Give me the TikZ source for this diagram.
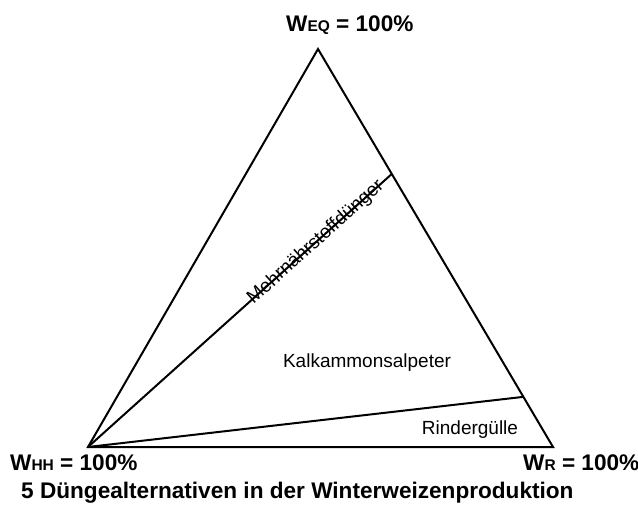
\documentclass[tikz,border=0pt]{standalone}
\usepackage{fontspec}
\setmainfont{Liberation Sans}
\usetikzlibrary{calc}
\newcommand\subsz[1]{{\fontsize{15.5}{15.5}\selectfont #1}}
\begin{document}
\begin{tikzpicture}[x=1pt,y=-1pt,
  edge/.style={line width=2pt,line join=miter},
  corner/.style={inner sep=0pt,anchor=base west,font=\bfseries\fontsize{22.6}{22.6}\selectfont},
  area/.style={inner sep=0pt,anchor=base,font=\fontsize{19}{19}\selectfont}]
\useasboundingbox (0,0) rectangle (638,505);
% vertices of the triangle
\coordinate (EQ) at (318,49);
\coordinate (HH) at (88,447);
\coordinate (R) at (553,447);
% points where the dividing lines meet the right edge
\coordinate (P1) at ($(EQ)!0.314!(R)$);
\coordinate (P2) at ($(EQ)!0.874!(R)$);
\draw[edge] (EQ) -- (HH) -- (R) -- cycle;
\draw[edge] (HH) -- (P1);
\draw[edge] (HH) -- (P2);
% region labels
\node[area,anchor=center,rotate=41.9] (mnd) at ($(HH)!0.75!(P1)$) {Mehrnährstoffdünger};
\node[area] (kas) at (367,368) {Kalkammonsalpeter};
\node[area] (rg) at (470,435) {Rindergülle};
% vertex labels
\node[corner] (lEQ) at (286,32) {W\subsz{EQ} = 100\%};
\node[corner] (lHH) at (10,470) {W\subsz{HH} = 100\%};
\node[corner] (lR) at (523,470) {W\subsz{R} = 100\%};
% caption
\node[corner] (cap) at (21,498) {5 Düngealternativen in der Winterweizenproduktion};
\end{tikzpicture}
\end{document}
